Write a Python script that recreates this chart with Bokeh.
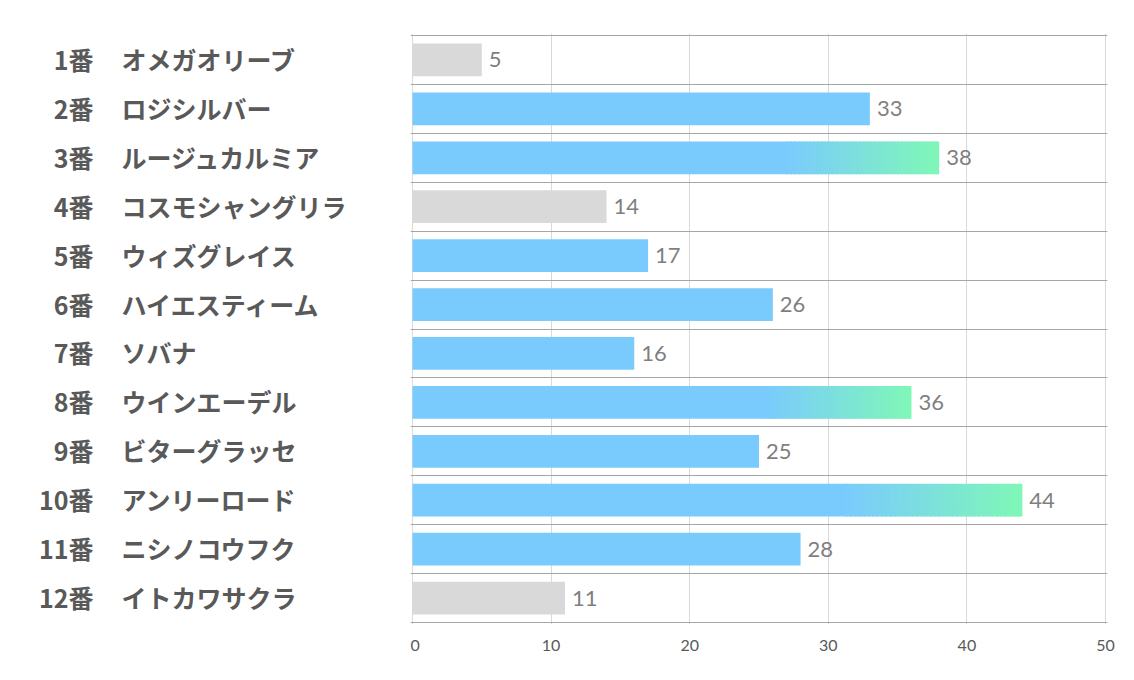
from bokeh.plotting import figure
from bokeh.layouts import row
from bokeh.models import ColumnDataSource, LabelSet, FixedTicker, Range1d, Grid
from bokeh.embed import file_html
from bokeh.resources import INLINE
from bokeh.core.properties import value

# ---- data ----
numbers = ["1番", "2番", "3番", "4番", "5番", "6番", "7番", "8番", "9番", "10番", "11番", "12番"]
names = ["オメガオリーブ", "ロジシルバー", "ルージュカルミア", "コスモシャングリラ", "ウィズグレイス",
         "ハイエスティーム", "ソバナ", "ウインエーデル", "ビターグラッセ", "アンリーロード",
         "ニシノコウフク", "イトカワサクラ"]
values = [5, 33, 38, 14, 17, 26, 16, 36, 25, 44, 28, 11]
tiers = ["low", "mid", "top", "low", "mid", "mid", "mid", "top", "mid", "top", "mid", "low"]
x_ticks = [0, 10, 20, 30, 40, 50]
x_max = 50

# ---- styles ----
BLUE = (122, 203, 253)
GREEN = (127, 247, 183)
GRAY = "#d9d9d9"
GRAD_START = 0.71
N_STEPS = 40
BAR_H = 0.67
FONT_JP = "Noto Sans CJK JP"
FONT_NUM = "Lato"

TOTAL_H = 676
TOP = 33          # frame top (includes 2px pad)
FRAME_H = 591
LEFT_W = 410
FRAME_W = 697
RIGHT_PAD = 23
PAD_PX = 2

def hexc(c):
    return "#%02x%02x%02x" % tuple(int(round(v)) for v in c)

n = len(numbers)
ypos = [n - i - 0.5 for i in range(n)]

base_color = [GRAY if t == "low" else hexc(BLUE) for t in tiers]
# solid part of each bar (the top bars end in a gradient)
base_right = []
for v, t in zip(values, tiers):
    if t == "top":
        step = v * (1 - GRAD_START) / N_STEPS
        base_right.append(v * GRAD_START + step * 0.5)
    else:
        base_right.append(v)

src = ColumnDataSource(dict(y=ypos, right=base_right, color=base_color,
                            val=values, num=numbers, name=names,
                            vlabel=[str(v) for v in values]))

# gradient segments for the top bars
gl, gr, gy, gc = [], [], [], []
for v, t, y in zip(values, tiers, ypos):
    if t != "top":
        continue
    s = v * GRAD_START
    step = (v - s) / N_STEPS
    for k in range(N_STEPS):
        f = (k + 0.5) / N_STEPS
        gl.append(s + step * k)
        gr.append(min(v, s + step * (k + 1.5)))
        gy.append(y)
        gc.append(hexc(tuple(BLUE[j] + (GREEN[j] - BLUE[j]) * f for j in range(3))))
gsrc = ColumnDataSource(dict(left=gl, right=gr, y=gy, color=gc))

bottom = TOTAL_H - TOP - FRAME_H
xpad = PAD_PX * x_max / (FRAME_W - 2 * PAD_PX)
ypad = PAD_PX * n / (FRAME_H - 2 * PAD_PX)
y_range = Range1d(-ypad, n + ypad)

p = figure(width=FRAME_W + RIGHT_PAD, height=TOTAL_H,
           x_range=Range1d(-xpad, x_max + xpad), y_range=y_range,
           output_backend="svg", toolbar_location=None, y_axis_location=None,
           min_border_left=0, min_border_right=RIGHT_PAD, min_border_top=TOP,
           min_border_bottom=bottom)
p.outline_line_color = None
p.border_fill_color = "white"

# grids
p.xgrid.ticker = FixedTicker(ticks=x_ticks)
p.xgrid.grid_line_color = "#d9d9d9"
p.xgrid.grid_line_width = 1
hgrid = Grid(dimension=1, ticker=FixedTicker(ticks=list(range(n + 1))),
             grid_line_color="#a6a6a6", grid_line_width=1)
p.add_layout(hgrid)

# x axis
p.xaxis.ticker = FixedTicker(ticks=x_ticks)
p.xaxis.axis_line_color = None
p.xaxis.major_tick_line_color = None
p.xaxis.minor_tick_line_color = None
p.xaxis.major_tick_out = 0
p.xaxis.major_tick_in = 0
p.xaxis.major_label_standoff = 15
p.xaxis.major_label_text_font = FONT_NUM
p.xaxis.major_label_text_font_size = "16px"
p.xaxis.major_label_text_color = "#595959"

# bars
p.hbar(y="y", left=0, right="right", height=BAR_H, fill_color="color", line_color=None, source=src)
p.hbar(y="y", left="left", right="right", height=BAR_H, fill_color="color", line_color=None, source=gsrc)

# value labels
p.add_layout(LabelSet(x="val", y="y", text="vlabel", source=src, x_offset=7,
                      text_baseline="middle", text_align="left",
                      text_font=value(FONT_NUM), text_font_size="22px", text_color="#7f7f7f"))

# left label panel sharing the y range
lp = figure(width=LEFT_W, height=TOTAL_H, x_range=Range1d(0, LEFT_W), y_range=y_range,
            output_backend="svg", toolbar_location=None, x_axis_location=None,
            y_axis_location=None, min_border_left=0, min_border_right=0,
            min_border_top=TOP, min_border_bottom=bottom)
lp.outline_line_color = None
lp.grid.visible = False
lp.text(x=93, y="y", text="num", source=src, text_baseline="middle", text_align="right",
        y_offset=-1, text_font=value(FONT_JP), text_font_style="bold", text_font_size="25px",
        text_color="#595959")
lp.text(x=121, y="y", text="name", source=src, text_baseline="middle", text_align="left",
        y_offset=-1, text_font=value(FONT_JP), text_font_style="bold", text_font_size="25px",
        text_color="#595959")

layout = row(lp, p, spacing=0)
open("out.html", "w").write(file_html(layout, INLINE))
